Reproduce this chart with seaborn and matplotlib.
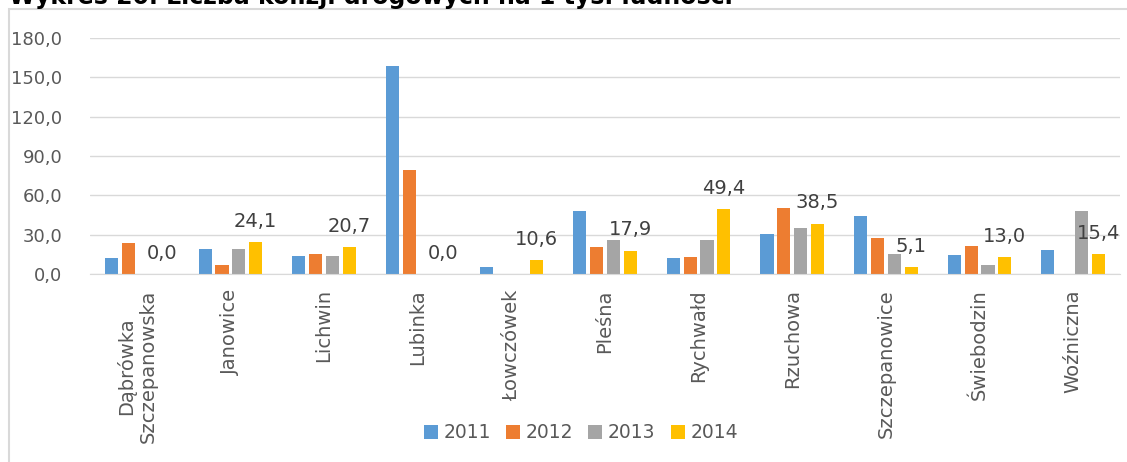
import pandas as pd
import matplotlib
matplotlib.use("Agg")
import matplotlib.pyplot as plt
from matplotlib.patches import Rectangle
from matplotlib.ticker import FuncFormatter
import seaborn as sns

#%% dane

gminy = ['Dąbrówka\nSzczepanowska', 'Janowice', 'Lichwin', 'Lubinka', 'Łowczówek',
         'Pleśna', 'Rychwałd', 'Rzuchowa', 'Szczepanowice', 'Świebodzin', 'Woźniczna']
lata = ['2011', '2012', '2013', '2014']

v2011 = [12.0, 18.9, 14.0, 158.4, 5.6, 47.7, 12.0, 30.6, 44.4, 14.8, 18.6]
v2012 = [24.0, 6.6, 15.0, 79.6, 0.0, 20.4, 13.0, 50.7, 27.5, 21.2, 0.0]
v2013 = [0.0, 18.9, 14.0, 0.0, 0.0, 25.8, 25.8, 35.0, 15.5, 6.6, 48.0]
v2014 = [0.0, 24.1, 20.7, 0.0, 10.6, 17.9, 49.4, 38.5, 5.1, 13.0, 15.4]

kolory = ['#5B9BD5', '#ED7D31', '#A5A5A5', '#FFC000']
tekst = '#595959'

df = pd.DataFrame({
    'gmina': gminy * 4,
    'rok': [r for r in lata for _ in gminy],
    'wartosc': v2011 + v2012 + v2013 + v2014,
})

def pl(v):
    return f"{v:.1f}".replace('.', ',')

#%% wykres

sns.set_style("white")
plt.rcParams['font.family'] = ['DejaVu Sans']

fig = plt.figure(figsize=(11.27, 4.62), dpi=100)
ax = fig.add_axes([90/1127, 1-274/462, (1120-90)/1127, (274-38)/462])

sns.barplot(data=df, x='gmina', y='wartosc', hue='rok', hue_order=lata,
            palette=kolory, saturation=1, width=0.72, gap=0.22, linewidth=0, ax=ax)

ax.set_ylim(0, 180)
ax.set_yticks(range(0, 181, 30))
ax.yaxis.set_major_formatter(FuncFormatter(lambda v, p: pl(v)))
ax.grid(axis='y', color='#D9D9D9', lw=1)
ax.set_axisbelow(True)
for s in ax.spines.values():
    s.set_visible(False)
ax.spines['bottom'].set_visible(True)
ax.spines['bottom'].set_color('#D9D9D9')
ax.tick_params(axis='y', length=0, pad=20, labelsize=13, labelcolor=tekst)
ax.tick_params(axis='x', length=0, pad=11, labelsize=14, labelcolor=tekst)
plt.setp(ax.get_xticklabels(), rotation=90)
ax.set_xlabel('')
ax.set_ylabel('')

# etykiety danych dla 2014
ax.bar_label(ax.containers[3], labels=[pl(v) for v in v2014], padding=8,
             fontsize=14, color='#404040')

ax.legend(loc='center', bbox_to_anchor=(0.5155, 0.063), bbox_transform=fig.transFigure,
          ncol=4, frameon=False, handlelength=0.75, handleheight=0.75,
          handletextpad=0.3, columnspacing=0.8, fontsize=13.5, labelcolor=tekst)

# ramka i ucięty tytuł (w oryginale tytuł jest przycięty u góry)
fig.patches.append(Rectangle((9/1127, -0.1), 1.2, (462-9)/462 + 0.1,
                             transform=fig.transFigure, fill=False,
                             edgecolor='#D9D9D9', lw=1.5))
fig.text(9/1127, 1-4/462, 'Wykres 20. Liczba kolizji drogowych na 1 tys. ludności',
         fontsize=17, fontweight='bold', va='baseline', ha='left', color='black')

fig.savefig('out.png', dpi=100)
